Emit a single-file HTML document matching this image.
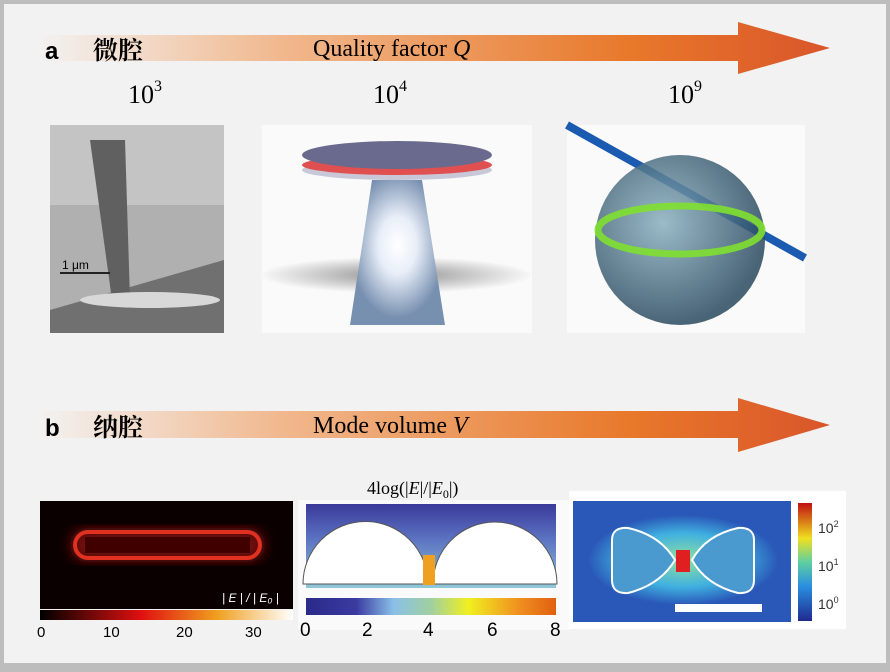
<!DOCTYPE html><html><head><meta charset="utf-8"><style>
body{margin:0;width:890px;height:667px;overflow:hidden;background:#bdbdbd}
</style></head><body>
<svg width="890" height="667" xmlns="http://www.w3.org/2000/svg" font-family="Liberation Serif, serif">
<defs>
<linearGradient id="ar" x1="0" x2="1"><stop offset="0" stop-color="#f2f2f2"/><stop offset="0.3" stop-color="#f1b98f"/><stop offset="0.75" stop-color="#e8782a"/><stop offset="1" stop-color="#d9552a"/></linearGradient>
<linearGradient id="cb1" x1="0" x2="1"><stop offset="0" stop-color="#000"/><stop offset="0.4" stop-color="#e01010"/><stop offset="0.7" stop-color="#f0a020"/><stop offset="1" stop-color="#fff"/></linearGradient>
<linearGradient id="cb2" x1="0" x2="1"><stop offset="0" stop-color="#2a2a8a"/><stop offset="0.2" stop-color="#3a3aa0"/><stop offset="0.35" stop-color="#8ac0e8"/><stop offset="0.5" stop-color="#a0d0a0"/><stop offset="0.65" stop-color="#f0f020"/><stop offset="0.85" stop-color="#f09020"/><stop offset="1" stop-color="#e06010"/></linearGradient>
<linearGradient id="cb3" x1="0" x2="0" y1="1" y2="0"><stop offset="0" stop-color="#202a90"/><stop offset="0.3" stop-color="#2a90e0"/><stop offset="0.5" stop-color="#60d0a0"/><stop offset="0.7" stop-color="#f0e020"/><stop offset="1" stop-color="#c01010"/></linearGradient>
<linearGradient id="f2" x1="0" x2="0" y1="0" y2="1"><stop offset="0" stop-color="#3a3a9a"/><stop offset="0.4" stop-color="#5a70c0"/><stop offset="1" stop-color="#90c8d8"/></linearGradient>
<radialGradient id="sph" cx="0.4" cy="0.4" r="0.6"><stop offset="0" stop-color="#8ab0c0"/><stop offset="1" stop-color="#2a4a60"/></radialGradient>
<radialGradient id="cone" cx="0.5" cy="0.45" r="0.5"><stop offset="0" stop-color="#fff"/><stop offset="0.4" stop-color="#e8eef8"/><stop offset="1" stop-color="#7890b0"/></radialGradient>
<radialGradient id="shadow" cx="0.5" cy="0.5" r="0.5"><stop offset="0" stop-color="#909090"/><stop offset="1" stop-color="#f8f8f8"/></radialGradient>
<radialGradient id="bt" cx="0.5" cy="0.5" r="0.5"><stop offset="0" stop-color="#90e0a0"/><stop offset="0.6" stop-color="#40b0e0"/><stop offset="1" stop-color="#2a58b8"/></radialGradient>
<filter id="bl"><feGaussianBlur stdDeviation="6"/></filter>
</defs>
<rect x="4" y="4" width="882" height="659" fill="#f2f2f2"/>
<polygon points="40,35 738,35 738,22 830,48 738,74 738,61 40,61" fill="url(#ar)"/>
<polygon points="40,411 738,411 738,398 830,425 738,452 738,438 40,438" fill="url(#ar)"/>
<text x="45" y="59" font-family="Liberation Sans, sans-serif" font-weight="bold" font-size="24">a</text>
<text x="93" y="59" font-family="Liberation Serif, 'Noto Serif CJK SC', serif" font-size="25" font-weight="bold">微腔</text>
<text x="313" y="56" font-size="24">Quality  factor <tspan font-style="italic">Q</tspan></text>
<text x="128" y="103" font-size="26">10<tspan font-size="16" dy="-12">3</tspan></text>
<text x="373" y="103" font-size="26">10<tspan font-size="16" dy="-12">4</tspan></text>
<text x="668" y="103" font-size="26">10<tspan font-size="16" dy="-12">9</tspan></text>
<text x="45" y="436" font-family="Liberation Sans, sans-serif" font-weight="bold" font-size="24">b</text>
<text x="93" y="436" font-family="Liberation Serif, 'Noto Serif CJK SC', serif" font-size="25" font-weight="bold">纳腔</text>
<text x="313" y="433" font-size="24">Mode volume <tspan font-style="italic">V</tspan></text>
<!-- panel 1 -->
<rect x="50" y="125" width="174" height="208" fill="#b0b0b0"/>
<rect x="50" y="125" width="174" height="80" fill="#c4c4c4"/>
<polygon points="50,310 224,260 224,333 50,333" fill="#707070"/>
<polygon points="90,140 125,140 130,300 112,300" fill="#606060"/>
<ellipse cx="150" cy="300" rx="70" ry="8" fill="#d8d8d8"/>
<rect x="60" y="272" width="50" height="2" fill="#222"/>
<text x="62" y="269" font-family="Liberation Sans, sans-serif" font-size="12">1 μm</text>
<!-- panel 2 -->
<rect x="262" y="125" width="270" height="208" fill="#fafafa"/>
<ellipse cx="396" cy="275" rx="135" ry="18" fill="url(#shadow)"/>
<polygon points="372,180 422,180 445,325 350,325" fill="url(#cone)"/>
<ellipse cx="397" cy="170" rx="95" ry="10" fill="#c8c8d8"/>
<ellipse cx="397" cy="165" rx="95" ry="10" fill="#e05050"/>
<ellipse cx="397" cy="155" rx="95" ry="14" fill="#6a6a8e"/>
<!-- panel 3 -->
<rect x="567" y="125" width="238" height="208" fill="#fafafa"/>
<line x1="567" y1="125" x2="805" y2="258" stroke="#1a5ab0" stroke-width="8"/>
<circle cx="680" cy="240" r="85" fill="url(#sph)" opacity="0.85"/>
<ellipse cx="680" cy="230" rx="82" ry="24" fill="none" stroke="#80e030" stroke-width="7" opacity="0.9"/>
<!-- panel b1 -->
<rect x="40" y="501" width="253" height="108" fill="#0a0000"/>
<rect x="70" y="528" width="195" height="34" rx="17" fill="#701010" filter="url(#bl)"/>
<rect x="75" y="532" width="185" height="26" rx="13" fill="none" stroke="#e03020" stroke-width="4"/>
<rect x="85" y="537" width="165" height="16" fill="#400000"/>
<rect x="40" y="610" width="253" height="10" fill="url(#cb1)"/>
<text x="222" y="602" fill="#fff" font-family="Liberation Sans, sans-serif" font-size="12" font-style="italic">| E | / | E₀ |</text>
<g font-family="Liberation Sans, sans-serif" font-size="15"><text x="37" y="637">0</text><text x="103" y="637">10</text><text x="176" y="637">20</text><text x="245" y="637">30</text></g>
<!-- panel b2 -->
<text x="367" y="494" font-size="18">4log(|<tspan font-style="italic">E</tspan>|/|<tspan font-style="italic">E</tspan><tspan font-size="12" dy="4">0</tspan><tspan dy="-4">|)</tspan></text>
<rect x="298" y="500" width="272" height="130" fill="#fafafa"/>
<rect x="306" y="504" width="250" height="84" fill="url(#f2)"/>
<path d="M303,584 A62,62 0 0 1 428,584 Z" fill="#fff" stroke="#555"/>
<path d="M433,584 A62,62 0 0 1 557,584 Z" fill="#fff" stroke="#555"/>
<rect x="423" y="555" width="12" height="30" fill="#f0a020"/>
<rect x="306" y="598" width="250" height="17" fill="url(#cb2)"/>
<g font-family="Liberation Sans, sans-serif" font-size="19"><text x="300" y="636">0</text><text x="362" y="636">2</text><text x="423" y="636">4</text><text x="487" y="636">6</text><text x="550" y="636">8</text></g>
<!-- panel b3 -->
<rect x="569" y="491" width="277" height="138" fill="#fff"/>
<rect x="573" y="501" width="218" height="121" fill="#2a58b8"/>
<ellipse cx="683" cy="560" rx="95" ry="45" fill="url(#bt)"/>
<path d="M612,540 Q612,527 628,528 Q660,535 675,560 Q660,585 628,593 Q612,594 612,580 Z" fill="#4a9ad0" stroke="#fff" stroke-width="2"/>
<path d="M754,540 Q754,527 738,528 Q706,535 692,560 Q706,585 738,593 Q754,594 754,580 Z" fill="#4a9ad0" stroke="#fff" stroke-width="2"/>
<rect x="676" y="550" width="14" height="22" fill="#e02020"/>
<rect x="675" y="604" width="87" height="8" fill="#fff"/>
<rect x="798" y="503" width="14" height="118" fill="url(#cb3)"/>
<g font-family="Liberation Sans, sans-serif" font-size="14" fill="#333"><text x="818" y="533">10<tspan font-size="9" dy="-6">2</tspan></text><text x="818" y="571">10<tspan font-size="9" dy="-6">1</tspan></text><text x="818" y="609">10<tspan font-size="9" dy="-6">0</tspan></text></g>
</svg>
</body></html>
